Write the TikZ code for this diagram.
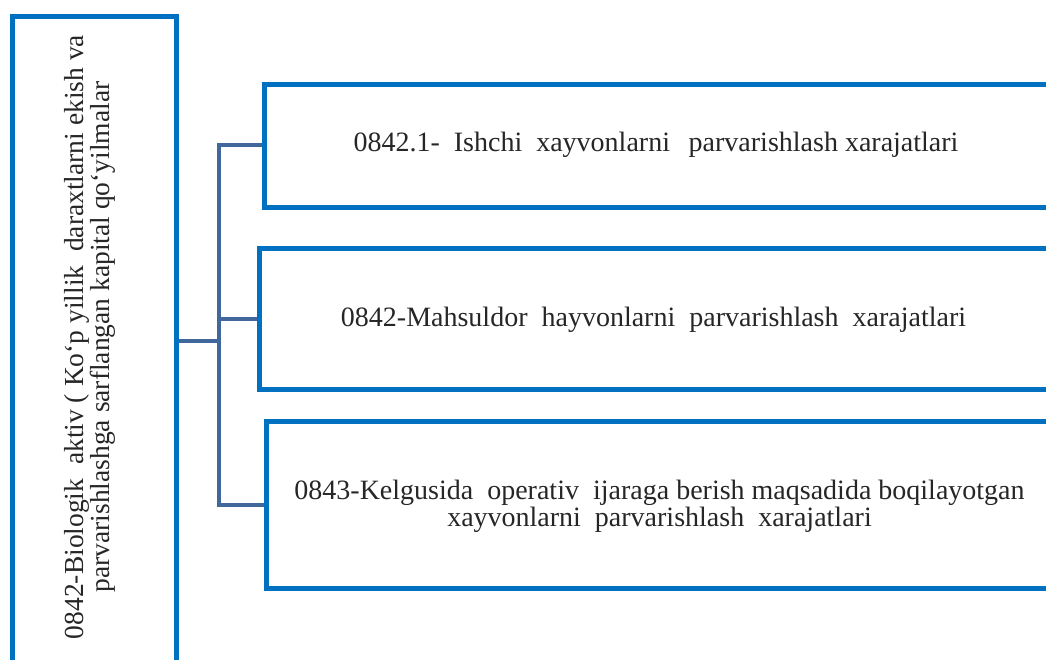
\documentclass[tikz,border=0pt]{standalone}
\usepackage{fontspec}
\setmainfont{Liberation Serif}
\definecolor{boxblue}{HTML}{0070C0}
\definecolor{linkblue}{HTML}{41689A}
\begin{document}
\begin{tikzpicture}[x=1pt,y=-1pt,
  box/.style={draw=boxblue,line width=5pt,rectangle,inner sep=0pt,anchor=center},
  lbl/.style={font=\fontsize{28}{27}\selectfont,align=center,inner sep=0pt,text=black!85},
  link/.style={draw=linkblue,line width=4pt}]
\useasboundingbox (0,0) rectangle (1046,659);
\begin{scope}
\clip (0,0) rectangle (1046,659);
\node[box,minimum width=164pt,minimum height=674pt] (L) at (94,353) {};
\node[box,minimum width=786pt,minimum height=123pt] (B1) at (657,145.5) {};
\node[box,minimum width=791pt,minimum height=141pt] (B2) at (654.5,318.5) {};
\node[box,minimum width=784pt,minimum height=167pt] (B3) at (658,504.5) {};
\end{scope}
\node[lbl,font=\fontsize{27.5}{26.5}\selectfont,rotate=90] (Lt) at (90,337) {0842-Biologik\ \ aktiv ( Ko‘p yillik\ \ daraxtlarni ekish va\\parvarishlashga sarflangan kapital qo‘yilmalar};
\node[lbl] (T1) at (656,145) {0842.1-\ \ Ishchi\ \ xayvonlarni\ \ \,parvarishlash xarajatlari};
\node[lbl] (T2) at (653.5,320) {0842-Mahsuldor\ \ hayvonlarni\ \ parvarishlash\ \ xarajatlari};
\node[lbl] (T3) at (659.5,506) {0843-Kelgusida\ \ operativ\ \ ijaraga berish maqsadida boqilayotgan\\xayvonlarni\ \ parvarishlash\ \ xarajatlari};
\coordinate (J) at (219,341);
\coordinate (J1) at (219,145);
\coordinate (J2) at (219,319);
\coordinate (J3) at (219,505);
\draw[link] (L.east |- J) -- (J);
\draw[link,line cap=rect] (J1) -- (J3);
\draw[link] (J1) -- (B1.west |- J1);
\draw[link] (J2) -- (B2.west |- J2);
\draw[link] (J3) -- (B3.west |- J3);
\end{tikzpicture}
\end{document}
